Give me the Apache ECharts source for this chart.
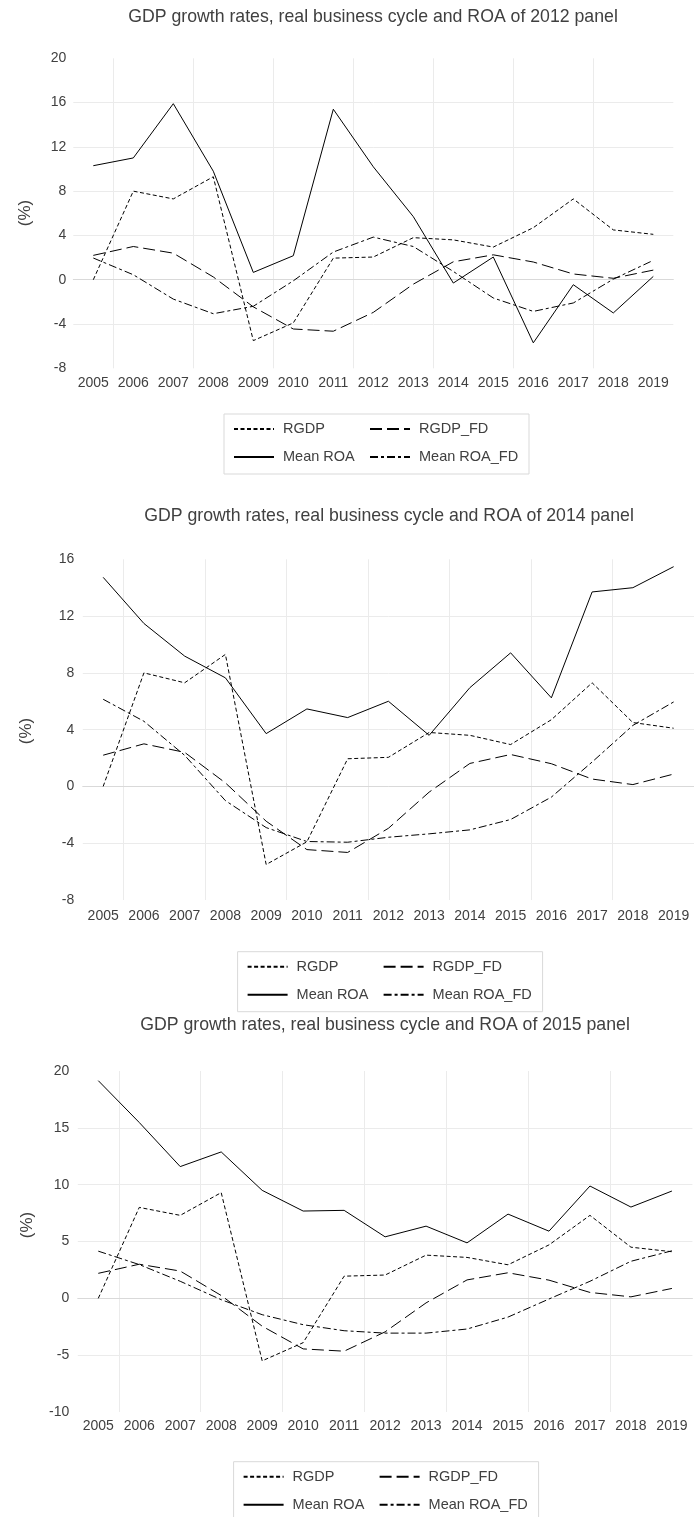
<!DOCTYPE html>
<html><head><meta charset="utf-8">
<script src="https://cdn.jsdelivr.net/npm/echarts@6/dist/echarts.min.js"></script>
<style>html,body{margin:0;padding:0;background:#fff}#c{width:694px;height:1517px}</style>
</head><body><div id="c"></div>
<script>
// ---------- data ----------
const years = ['2005','2006','2007','2008','2009','2010','2011','2012','2013','2014','2015','2016','2017','2018','2019'];
const rgdp    = [0, 8.0, 7.3, 9.3, -5.5, -3.9, 1.95, 2.05, 3.8, 3.6, 2.95, 4.7, 7.3, 4.5, 4.1];
const rgdpFD  = [2.2, 3.0, 2.4, 0.25, -2.45, -4.45, -4.65, -2.95, -0.4, 1.62, 2.25, 1.6, 0.52, 0.13, 0.87];

const roa2012   = [10.3, 11.0, 15.9, 9.8, 0.66, 2.17, 15.4, 10.2, 5.7, -0.3, 2.05, -5.7, -0.45, -3.0, 0.3];
const roaFD2012 = [1.96, 0.45, -1.75, -3.07, -2.4, -0.1, 2.5, 3.85, 3.0, 0.75, -1.65, -2.86, -2.1, 0.05, 1.75];

const roa2014   = [14.73, 11.48, 9.18, 7.65, 3.72, 5.46, 4.85, 6.0, 3.6, 6.96, 9.41, 6.24, 13.7, 14.0, 15.48];
const roaFD2014 = [6.14, 4.59, 2.19, -1.0, -2.9, -3.88, -3.93, -3.58, -3.34, -3.06, -2.33, -0.75, 1.72, 4.3, 5.95];

const roa2015   = [19.15, 15.47, 11.59, 12.88, 9.5, 7.68, 7.74, 5.41, 6.35, 4.88, 7.41, 5.91, 9.88, 8.03, 9.44];
const roaFD2015 = [4.15, 2.97, 1.5, -0.12, -1.44, -2.32, -2.85, -3.06, -3.06, -2.7, -1.65, -0.06, 1.5, 3.26, 4.18];

const yTicks1 = [-8, -4, 0, 4, 8, 12, 16, 20];
const yTicks2 = [-8, -4, 0, 4, 8, 12, 16];
const yTicks3 = [-10, -5, 0, 5, 10, 15, 20];

const titles = [
  'GDP growth rates, real business cycle and ROA of 2012 panel',
  'GDP growth rates, real business cycle and ROA of 2014 panel',
  'GDP growth rates, real business cycle and ROA of 2015 panel'
];
const seriesNames = ['RGDP', 'RGDP_FD', 'Mean ROA', 'Mean ROA_FD'];
const yName = '(%)';

// ---------- layout / style ----------
const FONT = '"Liberation Sans", Arial, sans-serif';
const TXT = '#404040';
const panels = [
  {grid:{left:73.3, top:58.3, width:600, height:310}, ticks:yTicks1, roa:roa2012, roaFD:roaFD2012,
   title:{x:373, y:17.5}, yname:{x:25, y:213}, legend:{left:224, top:414}, xMargin:8, yMargin:7},
  {grid:{left:82.8, top:559.3, width:614.4, height:340.7}, ticks:yTicks2, roa:roa2014, roaFD:roaFD2014,
   title:{x:389, y:516}, yname:{x:26.5, y:731}, legend:{left:237.6, top:951.7}, xMargin:9.5, yMargin:8.5},
  {grid:{left:77.8, top:1071, width:614.6, height:341}, ticks:yTicks3, roa:roa2015, roaFD:roaFD2015,
   title:{x:385, y:1025}, yname:{x:27.5, y:1225}, legend:{left:233.6, top:1461.7}, xMargin:7.5, yMargin:8.5}
];
const dashes = {
  'RGDP': [4, 2.5],
  'RGDP_FD': [12, 5],
  'Mean ROA': 'solid',
  'Mean ROA_FD': [8, 3, 3, 3]
};

const option = {
  animation: false,
  backgroundColor: '#fff',
  title: [], grid: [], xAxis: [], yAxis: [], series: [], legend: [], graphic: []
};

panels.forEach((p, i) => {
  option.title.push({
    text: titles[i], left: p.title.x, top: p.title.y, textAlign: 'center', textVerticalAlign: 'middle',
    padding: 0,
    textStyle: {fontFamily: FONT, fontSize: 17.7, fontWeight: 'normal', color: TXT}
  });
  option.grid.push(Object.assign({containLabel: false}, p.grid));
  option.xAxis.push({
    type: 'category', gridIndex: i, data: years, boundaryGap: true,
    axisLine: {show: true, onZero: true, lineStyle: {color: '#d9d9d9', width: 1}},
    axisTick: {show: false},
    axisLabel: {fontFamily: FONT, fontSize: 14, color: TXT, margin: p.xMargin, interval: 0},
    splitLine: {show: true, showMaxLine: false, interval: (idx) => idx % 2 === 1,
                lineStyle: {color: '#ebebeb', width: 1}}
  });
  const t = p.ticks;
  option.yAxis.push({
    type: 'value', gridIndex: i, min: t[0], max: t[t.length - 1], interval: t[1] - t[0],
    axisLine: {show: false}, axisTick: {show: false},
    axisLabel: {fontFamily: FONT, fontSize: 14, color: TXT, margin: p.yMargin},
    splitLine: {show: true, showMinLine: false, showMaxLine: false, lineStyle: {color: '#ebebeb', width: 1}}
  });
  const vals = {'RGDP': rgdp, 'RGDP_FD': rgdpFD, 'Mean ROA': p.roa, 'Mean ROA_FD': p.roaFD};
  seriesNames.forEach(name => {
    option.series.push({
      name: name, type: 'line', xAxisIndex: i, yAxisIndex: i, data: vals[name],
      symbol: 'none', smooth: false,
      lineStyle: {color: '#000', width: 1, type: dashes[name]},
      itemStyle: {color: '#000'},
      emphasis: {disabled: true}
    });
  });
  option.legend.push({
    left: p.legend.left, top: p.legend.top, width: 300,
    orient: 'horizontal', itemWidth: 40, itemHeight: 12, itemGap: 8,
    padding: [5, 8, 7, 9],
    borderColor: '#d9d9d9', borderWidth: 1,
    selectedMode: false,
    itemStyle: {opacity: 0},
    textStyle: {fontFamily: FONT, fontSize: 14.5, color: TXT, lineHeight: 20, padding: [0, 0, 0, 4]},
    data: [
      {name: 'RGDP', textStyle: {width: 78}},
      {name: 'RGDP_FD', textStyle: {width: 102}},
      {name: 'Mean ROA', textStyle: {width: 78}},
      {name: 'Mean ROA_FD', textStyle: {width: 102}}
    ]
  });
  option.graphic.push({
    type: 'text', x: p.yname.x, y: p.yname.y, rotation: Math.PI / 2,
    style: {text: yName, fontFamily: FONT, fontSize: 17, fill: TXT, align: 'center', verticalAlign: 'middle'}
  });
});

const chart = echarts.init(document.getElementById('c'), null, {renderer: 'canvas'});
chart.setOption(option);
</script>
</body></html>
